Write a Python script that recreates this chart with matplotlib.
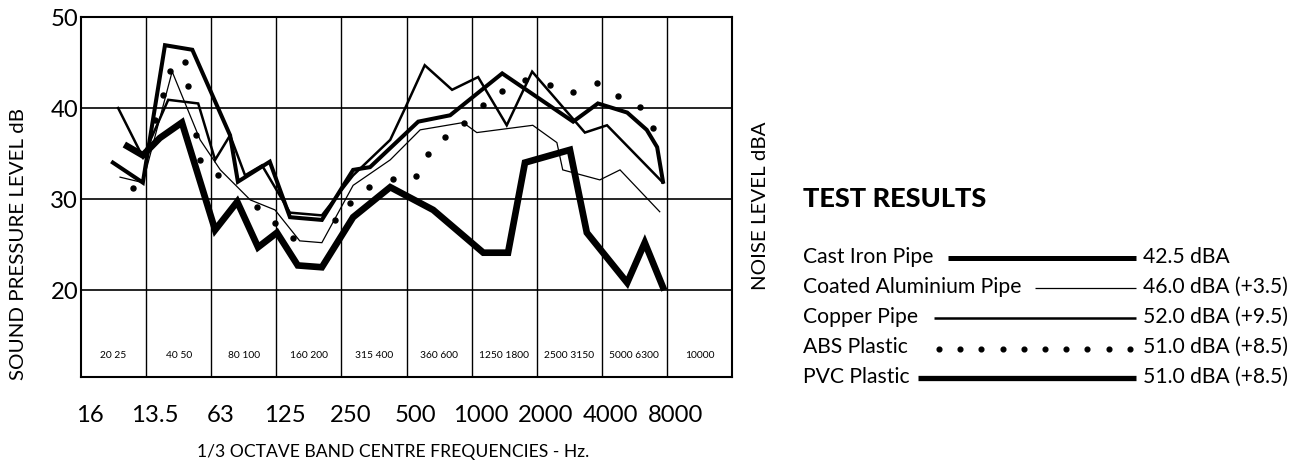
import matplotlib
matplotlib.use("Agg")
import matplotlib.pyplot as plt
from matplotlib import font_manager as fm
from matplotlib.transforms import ScaledTranslation


def have_font(name):
    try:
        fm.findfont(fm.FontProperties(family=name), fallback_to_default=False)
        return True
    except Exception:
        return False


NARROW = have_font('Liberation Sans Narrow')
FONT = 'Liberation Sans Narrow' if NARROW else 'Lato'
k = 1.0 if NARROW else 0.8   # shrink a wide font so the widths still fit
plt.rcParams['font.family'] = [FONT, 'DejaVu Sans']

# ---- data (x = octaves above the 16 Hz line, y = dB) ----
tick_labels = ['16', '13.5', '63', '125', '250', '500', '1000', '2000', '4000', '8000']
band_labels = ['20 25', '40 50', '80 100', '160 200', '315 400', '360 600',
               '1250 1800', '2500 3150', '5000 6300', '10000']

cast_x = [0.71, 0.95, 1.21, 1.55, 2.06, 2.40, 2.72, 3.01, 3.33, 3.70, 4.18,
          4.75, 5.41, 6.18, 6.56, 6.82, 7.51, 7.77, 8.39, 8.66, 8.94]
cast_y = [35.8, 34.8, 36.7, 38.4, 26.6, 29.7, 24.7, 26.3, 22.7, 22.5, 28.0,
          31.3, 28.8, 24.1, 24.1, 34.0, 35.4, 26.3, 20.8, 25.2, 20.3]

pvc_x = [0.49, 0.95, 1.29, 1.71, 2.29, 2.41, 2.90, 3.21, 3.70, 4.18, 4.44,
         5.18, 5.67, 6.47, 7.56, 7.94, 8.39, 8.69, 8.85, 8.94]
pvc_y = [34.0, 31.8, 46.9, 46.4, 37.0, 31.9, 34.1, 28.0, 27.7, 33.2, 33.5,
         38.5, 39.2, 43.8, 38.5, 40.5, 39.5, 37.6, 35.7, 31.9]

copper_x = [0.57, 0.95, 1.34, 1.80, 2.06, 2.29, 2.52, 2.78, 3.21, 3.70, 4.18,
            4.75, 4.98, 5.28, 5.70, 6.10, 6.54, 6.93, 7.74, 8.08, 8.94]
copper_y = [40.0, 34.6, 40.9, 40.5, 34.3, 37.0, 32.6, 33.7, 28.5, 28.2, 32.6,
            36.5, 40.0, 44.7, 42.0, 43.4, 38.1, 44.0, 37.3, 38.1, 31.8]

coated_x = [0.60, 0.95, 1.40, 1.83, 2.14, 2.60, 2.98, 3.36, 3.70, 4.18,
            4.75, 5.21, 5.87, 6.08, 6.94, 7.31, 7.40, 7.97, 8.28, 8.89]
coated_y = [32.4, 31.8, 44.0, 36.5, 33.2, 29.9, 28.8, 25.4, 25.2, 31.5,
            34.3, 37.6, 38.4, 37.3, 38.1, 36.2, 33.2, 32.1, 33.2, 28.6]

abs_x = [0.80, 1.14, 1.26, 1.37, 1.60, 1.64, 1.77, 1.83, 2.10, 2.70, 2.98,
         3.26, 3.90, 4.13, 4.42, 4.79, 5.15, 5.33, 5.59, 5.88, 6.18, 6.47,
         6.82, 7.20, 7.56, 7.93, 8.25, 8.59, 8.79]
abs_y = [31.2, 38.7, 41.4, 44.1, 45.1, 42.4, 37.0, 34.3, 32.6, 29.1, 27.4,
         25.7, 27.7, 29.6, 31.3, 32.2, 32.5, 34.9, 36.8, 38.4, 40.3, 41.9,
         43.1, 42.5, 41.8, 42.7, 41.3, 40.1, 37.8]

names = ['Cast Iron Pipe', 'Coated Aluminium Pipe', 'Copper Pipe', 'ABS Plastic', 'PVC Plastic']
results = ['42.5 dBA', '46.0 dBA (+3.5)', '52.0 dBA (+9.5)', '51.0 dBA (+8.5)', '51.0 dBA (+8.5)']

# ---- figure ----
W, H = 1313, 461
fig = plt.figure(figsize=(W / 100, H / 100), dpi=100)
ax = fig.add_axes([81 / W, 1 - 377 / H, 651 / W, 360 / H])

for y in [20, 30, 40]:
    ax.axhline(y, color='black', lw=1.2, zorder=1)
for x in range(1, 10):
    ax.axvline(x, color='black', lw=1.0, zorder=1)

line_kw = dict(color='black', solid_joinstyle='miter', zorder=3)
ax.plot(coated_x, coated_y, lw=0.9, **line_kw)
ax.plot(copper_x, copper_y, lw=1.8, **line_kw)
ax.plot(pvc_x, pvc_y, lw=2.9, **line_kw)
ax.plot(cast_x, cast_y, lw=4.8, **line_kw)
ax.plot(abs_x, abs_y, 'o', color='black', ms=3.6, zorder=4)

for i, lab in enumerate(band_labels):
    ax.text(i + 0.5, 12.75, lab, ha='center', va='center', fontsize=9.2 * k)

ax.set_xlim(0, 10)
ax.set_ylim(10.44, 50)
ax.set_xticks(range(10))
ax.set_xticklabels(tick_labels, fontsize=21.5 * k)
ax.set_yticks([20, 30, 40, 50])
ax.set_yticklabels(['20', '30', '40', '50'], fontsize=21.5 * k)
ax.tick_params(length=0)
ax.tick_params(axis='x', pad=20)
ax.tick_params(axis='y', pad=2)
nudge = ScaledTranslation(9 / 100, 0, fig.dpi_scale_trans)
for lab in ax.get_xticklabels():
    lab.set_transform(lab.get_transform() + nudge)
for s in ax.spines.values():
    s.set_linewidth(1.5)

ax.set_xlabel('1/3 OCTAVE BAND CENTRE FREQUENCIES - Hz.', fontsize=15.8 * k)
ax.xaxis.set_label_coords(0.479, -0.185)
ax.set_ylabel('SOUND PRESSURE LEVEL dB', fontsize=18.4 * k)
ax.yaxis.set_label_coords(-0.083, 0.37)

# ---- right-hand panel, drawn in pixel coordinates ----
ov = fig.add_axes([0, 0, 1, 1])
ov.set_xlim(0, W)
ov.set_ylim(H, 0)
ov.axis('off')

ov.text(760, 206, 'NOISE LEVEL dBA', rotation=90, ha='center', va='center', fontsize=18.4 * k)
ov.text(803, 199, 'TEST RESULTS', ha='left', va='center', fontsize=19.5,
        fontweight='black', family=['Lato', 'DejaVu Sans'])

rows = [257, 287, 317, 347, 377]
starts = [948, 1035, 934, 939, 918]
widths = [3.6, 0.9, 1.8, None, 3.8]
for name, res, yy, x0, lw in zip(names, results, rows, starts, widths):
    ov.text(803, yy, name, ha='left', va='center', fontsize=19 * k)
    ov.text(1143, yy, res, ha='left', va='center', fontsize=19 * k)
    if lw is None:
        ov.plot([x0 + j * 21.2 for j in range(10)], [yy + 2] * 10, 'o', color='black', ms=3.4)
    else:
        ov.plot([x0, 1136], [yy + 1, yy + 1], color='black', lw=lw, solid_capstyle='butt')

fig.savefig('out.png', dpi=100)
